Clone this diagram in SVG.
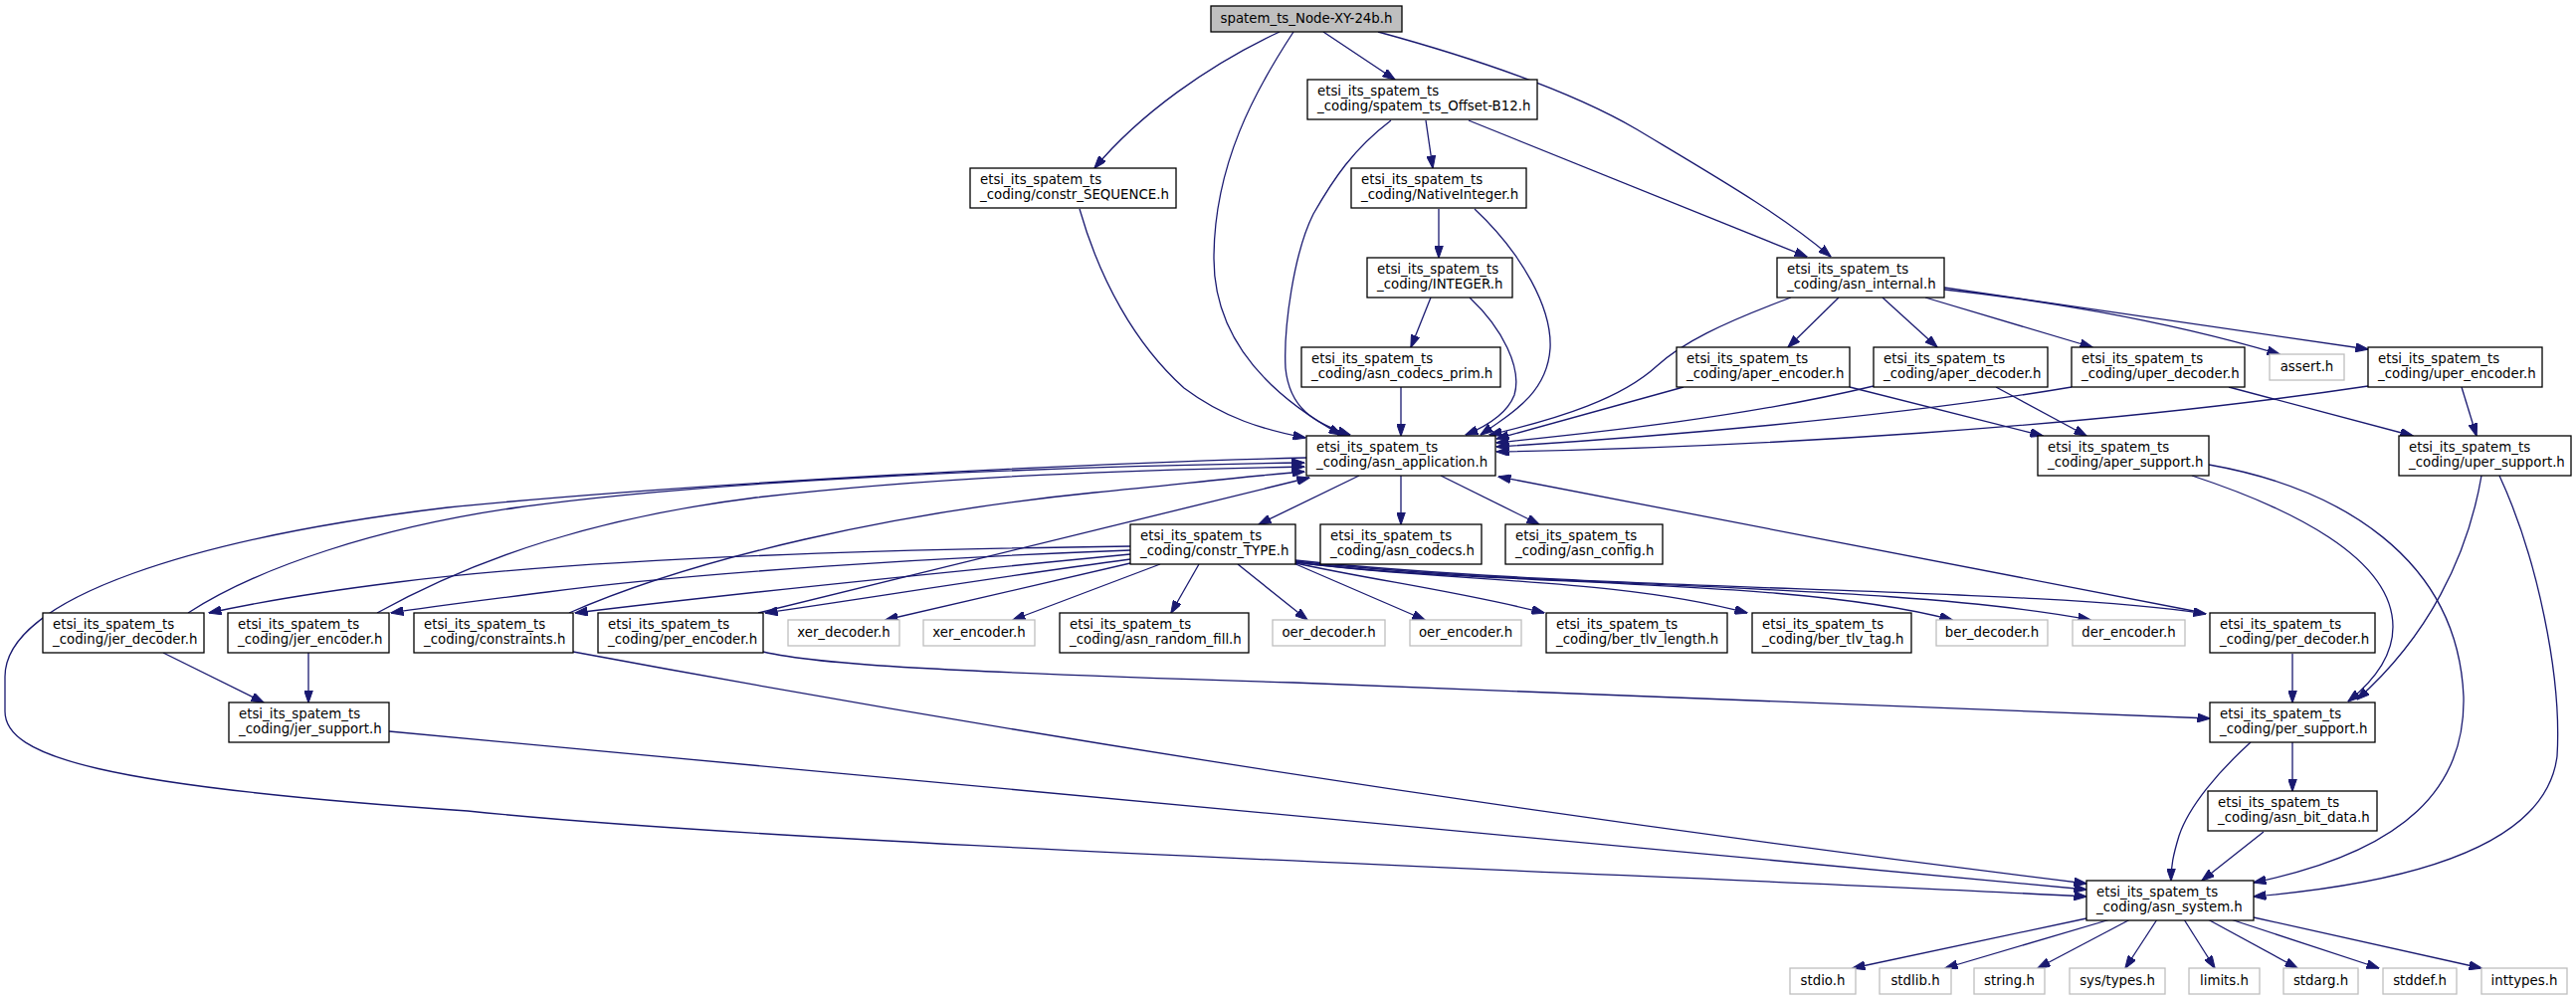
<svg xmlns="http://www.w3.org/2000/svg" width="2589" height="1005" viewBox="0 0 2589 1005">
<style>
text{font-family:"DejaVu Sans","Liberation Sans",sans-serif;font-size:13.33px;fill:#000}
.n rect{fill:#fff;stroke:#000;stroke-width:1.3}
.g rect{fill:#fff;stroke:#bfbfbf;stroke-width:1.3}
.r rect{fill:#bfbfbf;stroke:#000;stroke-width:1.3}
.g text,.r text{text-anchor:middle}
#edges path{fill:none;stroke:#191970;stroke-width:1.3;marker-end:url(#a)}
</style>
<defs>
<marker id="a" viewBox="0 0 13 9" markerWidth="13" markerHeight="9" refX="12.5" refY="4.5" orient="auto" markerUnits="userSpaceOnUse">
<path d="M0,0 L13,4.5 L0,9 z" fill="#191970" stroke="#191970"/>
</marker>
</defs>
<rect width="2589" height="1005" fill="#fff"/>
<g id="edges">
<path d="M1286,32 C1215,65 1145,115 1100,169"/>
<path d="M1300,32 C1262,90 1220,165 1220,260 C1220,350 1290,405 1348,437"/>
<path d="M1330,32 L1402,80"/>
<path d="M1385,32 C1480,58 1580,92 1645,130 C1720,175 1790,215 1840,258"/>
<path d="M1433,121 L1440,169"/>
<path d="M1398,121 C1360,150 1340,180 1320,215 C1300,255 1290,330 1292,370 C1296,410 1320,425 1357,437"/>
<path d="M1476,121 L1816,258"/>
<path d="M1085,210 C1105,280 1140,345 1190,390 C1230,420 1270,432 1312,440"/>
<path d="M1446,210 L1446,259"/>
<path d="M1482,210 C1530,255 1560,310 1558,350 C1555,395 1520,415 1488,437"/>
<path d="M1438,299 L1418,349"/>
<path d="M1477,299 C1510,330 1530,370 1522,397 C1515,415 1495,428 1473,437"/>
<path d="M1408,389 L1408,438"/>
<path d="M1800,299 C1730,325 1690,345 1665,368 C1630,400 1570,420 1497,437"/>
<path d="M1848,299 L1797,349"/>
<path d="M1892,299 L1947,349"/>
<path d="M1935,299 L2103,349"/>
<path d="M1954,291 C2040,300 2170,320 2291,356"/>
<path d="M1954,289 L2380,351"/>
<path d="M1692,389 L1504,441"/>
<path d="M1859,389 L2053,438"/>
<path d="M1883,388 C1750,420 1600,435 1504,445"/>
<path d="M2006,389 L2097,438"/>
<path d="M2082,389 C1900,420 1650,440 1504,449"/>
<path d="M2240,389 L2425,438"/>
<path d="M2380,388 C2100,430 1750,450 1504,454"/>
<path d="M2474,389 L2489,438"/>
<path d="M2203,478 C2300,510 2405,560 2405,630 C2405,660 2385,685 2360,705"/>
<path d="M2220,467 C2350,490 2470,560 2476,700 C2478,790 2420,855 2265,887"/>
<path d="M2494,478 C2480,560 2440,640 2369,703"/>
<path d="M2512,478 C2550,560 2575,680 2570,760 C2560,840 2450,885 2265,901"/>
<path d="M1366,478 L1265,527"/>
<path d="M1408,478 L1408,527"/>
<path d="M1448,478 L1547,527"/>
<path d="M1313,460 C1100,465 700,485 450,510 C200,540 5,600 5,680 L5,715 C5,760 100,790 470,815 C800,850 1700,880 2097,901"/>
<path d="M1136,549 C900,552 600,560 400,585 C320,595 260,605 210,616"/>
<path d="M1136,553 C950,560 700,575 550,595 C480,604 430,610 393,616"/>
<path d="M1136,557 C950,575 750,595 578,616"/>
<path d="M1136,562 C1000,580 880,600 769,616"/>
<path d="M1136,566 L890,623"/>
<path d="M1166,567 L1018,623"/>
<path d="M1205,567 L1177,616"/>
<path d="M1244,567 L1314,623"/>
<path d="M1300,566 L1432,623"/>
<path d="M1302,566 C1380,583 1470,595 1552,616"/>
<path d="M1302,565 C1450,585 1620,580 1756,616"/>
<path d="M1302,565 C1500,590 1800,580 1962,623"/>
<path d="M1302,564 C1550,592 1900,585 2101,623"/>
<path d="M1302,563 C1600,595 2050,590 2217,617"/>
<path d="M189,616 C260,570 380,530 520,510 C700,485 1000,470 1311,465"/>
<path d="M164,656 L265,706"/>
<path d="M379,616 C480,560 600,520 760,500 C950,478 1150,472 1311,469"/>
<path d="M310,656 L310,706"/>
<path d="M572,616 C700,560 900,515 1100,495 C1200,485 1260,478 1311,474"/>
<path d="M576,655 Q1300,790 2097,888"/>
<path d="M762,616 L1316,480"/>
<path d="M767,655 C820,668 950,675 1300,686 C1700,700 2000,712 2221,722"/>
<path d="M2215,616 L1506,479"/>
<path d="M2304,657 L2304,706"/>
<path d="M391,735 L2097,894"/>
<path d="M2304,746 L2304,795"/>
<path d="M2262,746 C2230,775 2200,810 2190,840 C2184,860 2182,870 2182,885"/>
<path d="M2275,836 L2213,885"/>
<path d="M2097,923 L1862,973"/>
<path d="M2121,924 L1955,973"/>
<path d="M2141,924 L2048,973"/>
<path d="M2168,924 L2136,973"/>
<path d="M2195,924 L2226,973"/>
<path d="M2219,924 L2309,973"/>
<path d="M2242,924 L2391,973"/>
<path d="M2265,922 L2494,973"/>
</g>
<g id="node-xy" class="r"><rect x="1217" y="6" width="192" height="26"/><text x="1313" y="23">spatem_ts_Node-XY-24b.h</text></g>
<g id="offset-b12" class="n"><rect x="1314" y="80" width="231" height="40"/><text x="1324" y="96">etsi_its_spatem_ts</text><text x="1324" y="111">_coding/spatem_ts_Offset-B12.h</text></g>
<g id="constr-sequence" class="n"><rect x="975" y="169" width="207" height="40"/><text x="985" y="185">etsi_its_spatem_ts</text><text x="985" y="200">_coding/constr_SEQUENCE.h</text></g>
<g id="nativeinteger" class="n"><rect x="1358" y="169" width="176" height="40"/><text x="1368" y="185">etsi_its_spatem_ts</text><text x="1368" y="200">_coding/NativeInteger.h</text></g>
<g id="integer" class="n"><rect x="1374" y="259" width="146" height="40"/><text x="1384" y="275">etsi_its_spatem_ts</text><text x="1384" y="290">_coding/INTEGER.h</text></g>
<g id="asn-internal" class="n"><rect x="1786" y="259" width="168" height="40"/><text x="1796" y="275">etsi_its_spatem_ts</text><text x="1796" y="290">_coding/asn_internal.h</text></g>
<g id="asn-codecs-prim" class="n"><rect x="1308" y="349" width="200" height="40"/><text x="1318" y="365">etsi_its_spatem_ts</text><text x="1318" y="380">_coding/asn_codecs_prim.h</text></g>
<g id="aper-encoder" class="n"><rect x="1685" y="349" width="174" height="40"/><text x="1695" y="365">etsi_its_spatem_ts</text><text x="1695" y="380">_coding/aper_encoder.h</text></g>
<g id="aper-decoder" class="n"><rect x="1883" y="349" width="175" height="40"/><text x="1893" y="365">etsi_its_spatem_ts</text><text x="1893" y="380">_coding/aper_decoder.h</text></g>
<g id="uper-decoder" class="n"><rect x="2082" y="349" width="174" height="40"/><text x="2092" y="365">etsi_its_spatem_ts</text><text x="2092" y="380">_coding/uper_decoder.h</text></g>
<g id="assert" class="g"><rect x="2281" y="356" width="75" height="26"/><text x="2318.5" y="373">assert.h</text></g>
<g id="uper-encoder" class="n"><rect x="2380" y="349" width="175" height="40"/><text x="2390" y="365">etsi_its_spatem_ts</text><text x="2390" y="380">_coding/uper_encoder.h</text></g>
<g id="asn-application" class="n"><rect x="1313" y="438" width="190" height="40"/><text x="1323" y="454">etsi_its_spatem_ts</text><text x="1323" y="469">_coding/asn_application.h</text></g>
<g id="aper-support" class="n"><rect x="2048" y="438" width="172" height="40"/><text x="2058" y="454">etsi_its_spatem_ts</text><text x="2058" y="469">_coding/aper_support.h</text></g>
<g id="uper-support" class="n"><rect x="2411" y="438" width="173" height="40"/><text x="2421" y="454">etsi_its_spatem_ts</text><text x="2421" y="469">_coding/uper_support.h</text></g>
<g id="constr-type" class="n"><rect x="1136" y="527" width="166" height="40"/><text x="1146" y="543">etsi_its_spatem_ts</text><text x="1146" y="558">_coding/constr_TYPE.h</text></g>
<g id="asn-codecs" class="n"><rect x="1327" y="527" width="162" height="40"/><text x="1337" y="543">etsi_its_spatem_ts</text><text x="1337" y="558">_coding/asn_codecs.h</text></g>
<g id="asn-config" class="n"><rect x="1513" y="527" width="158" height="40"/><text x="1523" y="543">etsi_its_spatem_ts</text><text x="1523" y="558">_coding/asn_config.h</text></g>
<g id="jer-decoder" class="n"><rect x="43" y="616" width="162" height="40"/><text x="53" y="632">etsi_its_spatem_ts</text><text x="53" y="647">_coding/jer_decoder.h</text></g>
<g id="jer-encoder" class="n"><rect x="229" y="616" width="162" height="40"/><text x="239" y="632">etsi_its_spatem_ts</text><text x="239" y="647">_coding/jer_encoder.h</text></g>
<g id="constraints" class="n"><rect x="416" y="616" width="160" height="40"/><text x="426" y="632">etsi_its_spatem_ts</text><text x="426" y="647">_coding/constraints.h</text></g>
<g id="per-encoder" class="n"><rect x="601" y="616" width="166" height="40"/><text x="611" y="632">etsi_its_spatem_ts</text><text x="611" y="647">_coding/per_encoder.h</text></g>
<g id="xer-decoder" class="g"><rect x="792" y="623" width="112" height="26"/><text x="848" y="640">xer_decoder.h</text></g>
<g id="xer-encoder" class="g"><rect x="928" y="623" width="112" height="26"/><text x="984" y="640">xer_encoder.h</text></g>
<g id="asn-random-fill" class="n"><rect x="1065" y="616" width="190" height="40"/><text x="1075" y="632">etsi_its_spatem_ts</text><text x="1075" y="647">_coding/asn_random_fill.h</text></g>
<g id="oer-decoder" class="g"><rect x="1279" y="623" width="113" height="26"/><text x="1335.5" y="640">oer_decoder.h</text></g>
<g id="oer-encoder" class="g"><rect x="1417" y="623" width="112" height="26"/><text x="1473" y="640">oer_encoder.h</text></g>
<g id="ber-tlv-length" class="n"><rect x="1554" y="616" width="182" height="40"/><text x="1564" y="632">etsi_its_spatem_ts</text><text x="1564" y="647">_coding/ber_tlv_length.h</text></g>
<g id="ber-tlv-tag" class="n"><rect x="1761" y="616" width="160" height="40"/><text x="1771" y="632">etsi_its_spatem_ts</text><text x="1771" y="647">_coding/ber_tlv_tag.h</text></g>
<g id="ber-decoder" class="g"><rect x="1946" y="623" width="112" height="26"/><text x="2002" y="640">ber_decoder.h</text></g>
<g id="der-encoder" class="g"><rect x="2083" y="623" width="113" height="26"/><text x="2139.5" y="640">der_encoder.h</text></g>
<g id="per-decoder" class="n"><rect x="2221" y="616" width="166" height="40"/><text x="2231" y="632">etsi_its_spatem_ts</text><text x="2231" y="647">_coding/per_decoder.h</text></g>
<g id="jer-support" class="n"><rect x="230" y="706" width="161" height="40"/><text x="240" y="722">etsi_its_spatem_ts</text><text x="240" y="737">_coding/jer_support.h</text></g>
<g id="per-support" class="n"><rect x="2221" y="706" width="166" height="40"/><text x="2231" y="722">etsi_its_spatem_ts</text><text x="2231" y="737">_coding/per_support.h</text></g>
<g id="asn-bit-data" class="n"><rect x="2219" y="795" width="170" height="40"/><text x="2229" y="811">etsi_its_spatem_ts</text><text x="2229" y="826">_coding/asn_bit_data.h</text></g>
<g id="asn-system" class="n"><rect x="2097" y="885" width="168" height="40"/><text x="2107" y="901">etsi_its_spatem_ts</text><text x="2107" y="916">_coding/asn_system.h</text></g>
<g id="stdio" class="g"><rect x="1799" y="973" width="66" height="26"/><text x="1832" y="990">stdio.h</text></g>
<g id="stdlib" class="g"><rect x="1889" y="973" width="72" height="26"/><text x="1925" y="990">stdlib.h</text></g>
<g id="string" class="g"><rect x="1984" y="973" width="71" height="26"/><text x="2019.5" y="990">string.h</text></g>
<g id="sys-types" class="g"><rect x="2080" y="973" width="96" height="26"/><text x="2128" y="990">sys/types.h</text></g>
<g id="limits" class="g"><rect x="2200" y="973" width="71" height="26"/><text x="2235.5" y="990">limits.h</text></g>
<g id="stdarg" class="g"><rect x="2295" y="973" width="75" height="26"/><text x="2332.5" y="990">stdarg.h</text></g>
<g id="stddef" class="g"><rect x="2395" y="973" width="74" height="26"/><text x="2432" y="990">stddef.h</text></g>
<g id="inttypes" class="g"><rect x="2494" y="973" width="86" height="26"/><text x="2537" y="990">inttypes.h</text></g>
</svg>
